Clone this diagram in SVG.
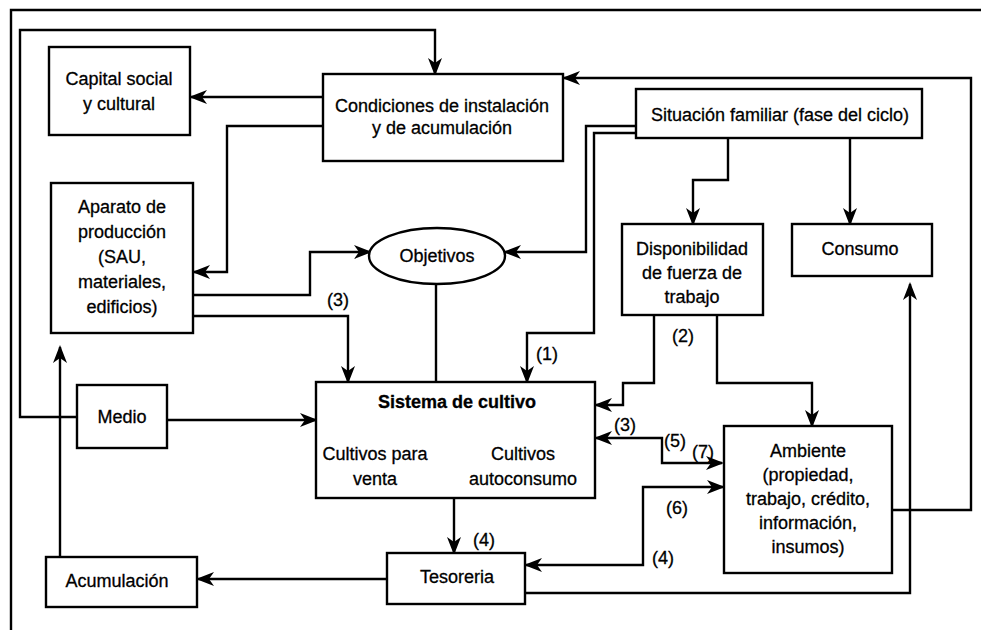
<svg xmlns="http://www.w3.org/2000/svg" width="981" height="630" viewBox="0 0 981 630">
  <style>
    .box { fill: #ffffff; stroke: #000000; stroke-width: 2.4; }
    .wire { fill: none; stroke: #000000; stroke-width: 2.4; stroke-linejoin: miter; }
    .arr { marker-end: url(#head); }
    .both { marker-start: url(#headStart); marker-end: url(#head); }
    text { font-family: "Liberation Sans", Arial, Helvetica, sans-serif; font-size: 18px; fill: #000000; stroke: #000000; stroke-width: 0.3; text-anchor: middle; }
    .bold { font-weight: bold; }
  </style>
  <defs>
    <marker id="head" viewBox="0 0 18 14" markerWidth="18" markerHeight="14" refX="16" refY="7" orient="auto" markerUnits="userSpaceOnUse">
      <path d="M0,0 L18,7 L0,14 L5,7 Z" fill="#000000"/>
    </marker>
    <marker id="headStart" viewBox="0 0 18 14" markerWidth="18" markerHeight="14" refX="16" refY="7" orient="auto-start-reverse" markerUnits="userSpaceOnUse">
      <path d="M0,0 L18,7 L0,14 L5,7 Z" fill="#000000"/>
    </marker>
  </defs>

  <rect width="981" height="630" fill="#ffffff"/>

  <!-- page frame -->
  <path class="wire" d="M11,630 V10 H981"/>

  <!-- connectors -->
  <g id="connectors">
    <!-- Medio to Condiciones, around the top -->
    <path class="wire arr" d="M77,417 H20 V30 H435 V74"/>
    <!-- Condiciones to Capital social -->
    <path class="wire arr" d="M323,97 H191"/>
    <!-- Condiciones to Aparato de producción -->
    <path class="wire arr" d="M323,126 H227 V272 H194"/>
    <!-- Ambiente back to Condiciones, around the right -->
    <path class="wire arr" d="M892,510 H971 V78 H564"/>
    <!-- Situación familiar to Objetivos -->
    <path class="wire arr" d="M636,126 H586 V252 H505"/>
    <!-- Situación familiar to Sistema de cultivo (1) -->
    <path class="wire arr" d="M636,133 H594 V333 H527 V382"/>
    <!-- Situación familiar to Disponibilidad -->
    <path class="wire arr" d="M728,138 V180 H693 V224"/>
    <!-- Situación familiar to Consumo -->
    <path class="wire arr" d="M850,138 V224"/>
    <!-- Aparato to Objetivos -->
    <path class="wire arr" d="M193,295 H310 V252 H370"/>
    <!-- Aparato to Sistema de cultivo (3) -->
    <path class="wire arr" d="M193,316 H348 V382"/>
    <!-- Objetivos to Sistema de cultivo -->
    <path class="wire" d="M436,284 V382"/>
    <!-- Disponibilidad to Sistema de cultivo (2) -->
    <path class="wire arr" d="M654,315 V383 H623 V405 H596"/>
    <!-- Disponibilidad to Ambiente -->
    <path class="wire arr" d="M717,315 V383 H812 V426"/>
    <!-- Medio to Sistema de cultivo -->
    <path class="wire arr" d="M167,420 H316"/>
    <!-- Sistema de cultivo and Ambiente (3)(5)(7) -->
    <path class="wire both" d="M596,438 H662 V463 H722"/>
    <!-- Tesoreria and Ambiente (6)(4) -->
    <path class="wire both" d="M526,565 H643 V487 H723"/>
    <!-- Sistema de cultivo to Tesoreria (4) -->
    <path class="wire arr" d="M454,498 V553"/>
    <!-- Tesoreria to Acumulación -->
    <path class="wire arr" d="M387,579 H198"/>
    <!-- Acumulación to Aparato -->
    <path class="wire arr" d="M60,557 V347"/>
    <!-- Tesoreria to Consumo -->
    <path class="wire arr" d="M525,593 H910 V284"/>

    <!-- connector labels -->
    <text x="338" y="306">(3)</text>
    <text x="547" y="360">(1)</text>
    <text x="683" y="342">(2)</text>
    <text x="625" y="431">(3)</text>
    <text x="675" y="447">(5)</text>
    <text x="703" y="458">(7)</text>
    <text x="677" y="514">(6)</text>
    <text x="663" y="564">(4)</text>
    <text x="484" y="546">(4)</text>
  </g>

  <!-- nodes -->
  <g id="capital">
    <rect class="box" x="49" y="47" width="141" height="88"/>
    <text x="119" y="85">Capital social</text>
    <text x="119" y="110">y cultural</text>
  </g>

  <g id="condiciones">
    <rect class="box" x="323" y="74" width="240" height="87"/>
    <text x="442" y="112">Condiciones de instalación</text>
    <text x="442" y="134">y de acumulación</text>
  </g>

  <g id="situacion">
    <rect class="box" x="636" y="89" width="286" height="49"/>
    <text x="780" y="121">Situación familiar (fase del ciclo)</text>
  </g>

  <g id="aparato">
    <rect class="box" x="51" y="183" width="142" height="150"/>
    <text x="122" y="213">Aparato de</text>
    <text x="122" y="238">producción</text>
    <text x="122" y="263">(SAU,</text>
    <text x="122" y="288">materiales,</text>
    <text x="122" y="313">edificios)</text>
  </g>

  <g id="objetivos">
    <ellipse class="box" cx="437" cy="256" rx="68" ry="28"/>
    <text x="437" y="262">Objetivos</text>
  </g>

  <g id="disponibilidad">
    <rect class="box" x="622" y="224" width="141" height="91"/>
    <text x="692" y="255">Disponibilidad</text>
    <text x="692" y="279">de fuerza de</text>
    <text x="692" y="303">trabajo</text>
  </g>

  <g id="consumo">
    <rect class="box" x="792" y="224" width="140" height="52"/>
    <text x="860" y="255">Consumo</text>
  </g>

  <g id="medio">
    <rect class="box" x="77" y="385" width="90" height="63"/>
    <text x="122" y="423">Medio</text>
  </g>

  <g id="sistema">
    <rect class="box" x="316" y="382" width="279" height="116"/>
    <text class="bold" x="457" y="408">Sistema de cultivo</text>
    <text x="375" y="460">Cultivos para</text>
    <text x="375" y="485">venta</text>
    <text x="523" y="460">Cultivos</text>
    <text x="523" y="485">autoconsumo</text>
  </g>

  <g id="ambiente">
    <rect class="box" x="724" y="426" width="168" height="147"/>
    <text x="808" y="457">Ambiente</text>
    <text x="808" y="481">(propiedad,</text>
    <text x="808" y="505">trabajo, crédito,</text>
    <text x="808" y="529">información,</text>
    <text x="808" y="553">insumos)</text>
  </g>

  <g id="tesoreria">
    <rect class="box" x="387" y="553" width="138" height="51"/>
    <text x="457" y="583">Tesoreria</text>
  </g>

  <g id="acumulacion">
    <rect class="box" x="46" y="557" width="151" height="50"/>
    <text x="117" y="587">Acumulación</text>
  </g>
</svg>
